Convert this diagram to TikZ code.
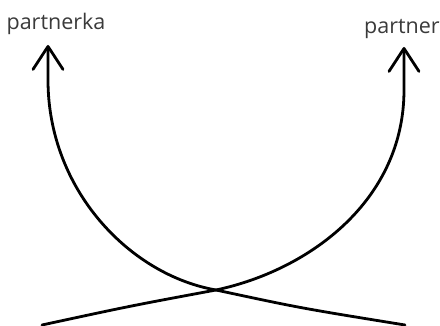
\documentclass[tikz,border=0pt]{standalone}
\usepackage{fontspec}
\setmainfont{Open Sans}
\usepackage{tikz}
\usetikzlibrary{arrows.meta}
\definecolor{textgray}{HTML}{3A3A3A}

\begin{document}
\begin{tikzpicture}[
    x=1pt, y=-1pt,
    word/.style={font=\fontsize{21.5}{24}\selectfont, color=textgray, inner sep=0pt, anchor=base},
    curve/.style={-{Straight Barb[length=23pt, width=30pt, round]}, line width=2.8pt, line cap=round}
]
\useasboundingbox (0,0) rectangle (440,326);
\node[word] (pka) at (56,30) {partnerka};
\node[word] (pnr) at (402,34) {partner};

\coordinate (pkatip) at (48,45);
\coordinate (pnrtip) at (404,47);
\coordinate (rend) at (405,325);
\coordinate (lend) at (42,325);
\coordinate (cross) at (216,290);

\draw[curve] (rend) .. controls (300,308) .. (cross)
    .. controls (130,275) and (48,190) .. (48,80) -- (pkatip);
\draw[curve] (lend) .. controls (130,306) .. (cross)
    .. controls (310,270) and (404,200) .. (404,90) -- (pnrtip);
\end{tikzpicture}
\end{document}
